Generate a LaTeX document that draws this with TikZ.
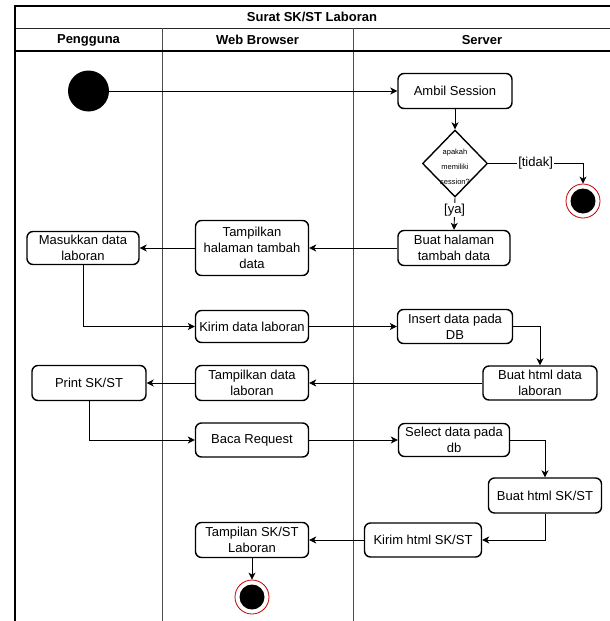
\documentclass[tikz,border=0pt]{standalone}
\usepackage{fontspec}
\setmainfont{Liberation Sans}
\usetikzlibrary{shapes.geometric,arrows.meta}

\tikzset{
  act/.style={draw, line width=1.4pt, rounded corners=6pt, align=center,
    inner sep=1pt, font=\fontsize{13}{16}\selectfont, fill=white},
  flow/.style={line width=0.9pt, -{Stealth[length=7pt,width=7pt,inset=2pt]}},
  guard/.style={fill=white, inner sep=1pt, font=\fontsize{13}{16}\selectfont},
  lane/.style={line width=1pt, black!70},
  frame/.style={line width=1.2pt, black},
  hdr/.style={font=\bfseries\fontsize{13}{16}\selectfont},
  startdot/.style={circle, fill=black, minimum size=41pt, inner sep=0pt},
  enddot/.style={circle, draw=red!75!black, line width=0.8pt, fill=white,
    minimum size=34pt, inner sep=0pt,
    path picture={\fill[black] (path picture bounding box.center) circle (12.5pt);}},
}

\begin{document}
\begin{tikzpicture}[x=1pt, y=-1pt]
\useasboundingbox (0,0) rectangle (610,621);

% swimlane frame
\begin{scope}
  \clip (0,0) rectangle (610,621);
  \draw[lane, black!85] (15,28) -- (612,28);
  \draw[lane] (162,28) -- (162,640);
  \draw[lane] (353,28) -- (353,640);
  \draw[frame] (15,51) -- (612,51);
  \draw[frame] (15,640) -- (15,6) -- (612,6) -- (612,640);
\end{scope}

\node[hdr] (title) at (312,17) {Surat SK/ST Laboran};
\node[hdr] (hPengguna) at (88.5,40) {Pengguna};
\node[hdr] (hBrowser) at (257.5,40) {Web Browser};
\node[hdr] (hServer) at (482,40) {Server};

% activities
\node[startdot] (start) at (88.5,91) {};
\node[act, minimum width=114pt, minimum height=35pt] (ambil) at (455,91) {Ambil Session};
\node[diamond, draw, line width=1.4pt, fill=white, minimum width=65pt, minimum height=67pt,
      inner sep=0pt, align=center, font=\fontsize{7.5}{15}\selectfont] (cek) at (455,163.5)
      {};
\node[align=center, font=\fontsize{7.5}{15}\selectfont, inner sep=0pt] (cektext) at (455,167)
      {apakah\\memiliki\\session?};
\node[enddot] (end1) at (583,201) {};
\node[act, minimum width=112pt, minimum height=35pt] (buat) at (454,248) {Buat halaman\\tambah data};
\node[act, minimum width=113pt, minimum height=55pt] (tampil1) at (252,248) {Tampilkan\\halaman tambah\\data};
\node[act, minimum width=112pt, minimum height=33pt] (masuk) at (83,248) {Masukkan data\\laboran};
\node[act, minimum width=113pt, minimum height=32pt] (kirim) at (252,326.5) {Kirim data laboran};
\node[act, minimum width=115pt, minimum height=34pt] (insert) at (455,326.5) {Insert data pada\\DB};
\node[act, minimum width=114pt, minimum height=34pt] (bhtml) at (540,383) {Buat html data\\laboran};
\node[act, minimum width=113pt, minimum height=35pt] (tampil2) at (252,383) {Tampilkan data\\laboran};
\node[act, minimum width=114pt, minimum height=35pt] (print) at (89,383) {Print SK/ST};
\node[act, minimum width=113pt, minimum height=34pt] (baca) at (252,440) {Baca Request};
\node[act, minimum width=111pt, minimum height=33pt] (select) at (454,440) {Select data pada\\db};
\node[act, minimum width=113pt, minimum height=35pt] (bsk) at (545,495.5) {Buat html SK/ST};
\node[act, minimum width=117pt, minimum height=34pt] (kirimsk) at (423,540) {Kirim html SK/ST};
\node[act, minimum width=113pt, minimum height=35pt] (tampilsk) at (252,540) {Tampilan SK/ST\\Laboran};
\node[enddot] (end2) at (252,597) {};

% control flow
\draw[flow] (start) -- (ambil);
\draw[flow] (ambil) -- (cek);
\draw[flow] (cek.east) -- node[guard, pos=0.5] {[tidak]} (583,163.5) -- (end1.north);
\draw[flow] (cek.south) -- node[guard, pos=0.38] {[ya]} (buat.north);
\draw[flow] (buat) -- (tampil1);
\draw[flow] (tampil1) -- (masuk);
\draw[flow] (masuk.south) |- (kirim.west);
\draw[flow] (kirim) -- (insert);
\draw[flow] (insert.east) -| (bhtml.north);
\draw[flow] (bhtml) -- (tampil2);
\draw[flow] (tampil2) -- (print);
\draw[flow] (print.south) |- (baca.west);
\draw[flow] (baca) -- (select);
\draw[flow] (select.east) -| (bsk.north);
\draw[flow] (bsk.south) |- (kirimsk.east);
\draw[flow] (kirimsk) -- (tampilsk);
\draw[flow] (tampilsk) -- (end2);
\end{tikzpicture}
\end{document}
